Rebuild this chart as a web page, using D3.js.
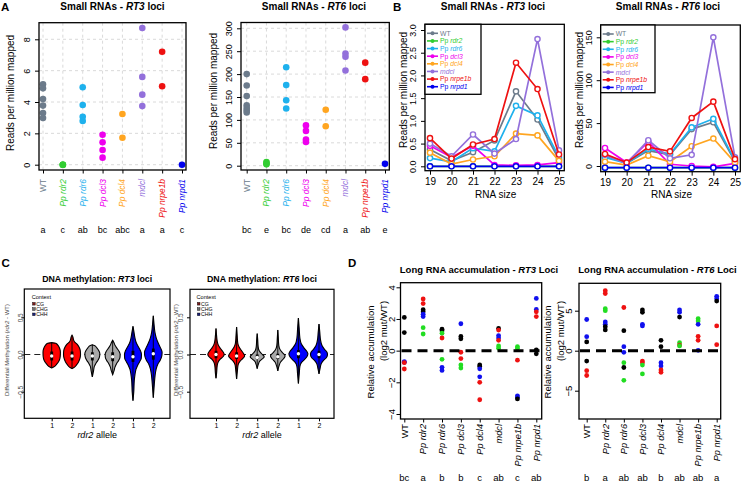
<!DOCTYPE html>
<html><head><meta charset="utf-8">
<script src="https://cdn.jsdelivr.net/npm/d3@7"></script>
<style>body{margin:0;background:#fff}svg{display:block}</style>
</head><body><svg id="chart" width="742" height="484"></svg>
<script>
// ---------------- DATA ----------------
const genotypes = ["WT","Pp rdr2","Pp rdr6","Pp dcl3","Pp dcl4","mdcl","Pp nrpe1b","Pp nrpd1"];
const genoColors = ["#6C7B8B","#32CD32","#1EB1ED","#EE00EE","#FFA520","#9370DB","#EE1111","#0000EE"];

// A: small RNAs (reads per million mapped), one array per genotype
const smallRT3 = [[5.13,4.87,4.19,3.77,3.3,2.98],[0,0,0],[4.94,3.81,3.06,2.79],[1.91,1.43,0.94,0.45],[3.23,1.72],[8.72,5.6,4.47,3.74],[7.21,5.0],[0]];
const smallRT6 = [[200,175,152,132,126,121,116],[8,5,3],[215,176,143,125],[88,76,57,52],[122,86],[302,245,238,208],[225,189],[4]];
const smallRT3Ticks = [0,2,4,6,8];
const smallRT6Ticks = [0,50,100,150,200,250,300];
const smallRT3Letters = ["a","c","ab","bc","abc","a","a","c"];
const smallRT6Letters = ["bc","e","bc","de","cd","a","ab","e"];

// B: size profiles
const rnaSizes = [19,20,21,22,23,24,25];
const sizeRT3_WT     = [0.37,0.12,0.31,0.57,1.65,1.03,0.15];
const sizeRT3_rdr2   = [0,0,0,0,0,0,0];
const sizeRT3_rdr6   = [0.18,0.10,0.40,0.33,1.33,1.12,0.20];
const sizeRT3_dcl3   = [0.45,0.20,0.45,0.03,0.02,0.03,0.08];
const sizeRT3_dcl4   = [0.30,0.05,0.15,0.22,0.72,0.68,0.12];
const sizeRT3_mdcl   = [0.50,0.22,0.70,0.28,0.60,2.80,0.35];
const sizeRT3_nrpe1b = [0.62,0.17,0.48,0.60,2.28,1.70,0.26];
const sizeRT3_nrpd1  = [0,0,0,0,0,0,0];
const sizeRT6_WT     = [12,3,18,13,43,51,5];
const sizeRT6_rdr2   = [-2,-2,-2,-2,-2,-2,-2];
const sizeRT6_rdr6   = [10,3,20,14,45,55,6];
const sizeRT6_dcl3   = [21,4,28,2,0,-1,3];
const sizeRT6_dcl4   = [5,1,12,5,23,32,4];
const sizeRT6_mdcl   = [13,3,30,9,13,150,10];
const sizeRT6_nrpe1b = [14,4,22,17,56,75,8];
const sizeRT6_nrpd1  = [-2,-2,-2,-2,-2,-2,-2];
const sizeRT3Ticks = [0,0.5,1,1.5,2,2.5,3];
const sizeRT6Ticks = [0,50,100,150];

// C: DNA methylation violins ([value, density])
const contexts = ["CG","CHG","CHH"];
const contextFill = ["#FF0000","#A8A8A8","#0000FF"];
const contextKey = ["#7A1C1C","#6E6E6E","#1C237A"];
const violinContext = [0,0,1,1,2,2];
const violinAllele = ["1","2","1","2","1","2"];
const methTicks = [-0.5,0,0.5];
const methRT3Profiles = [
  [[0.16,0],[0.15,4],[0.12,6.5],[0.08,8],[0.03,8.7],[-0.03,8.5],[-0.08,7.5],[-0.13,5],[-0.16,3],[-0.18,0]],
  [[0.26,0],[0.24,0.8],[0.2,1.5],[0.17,2.5],[0.14,5],[0.1,7],[0.05,8.3],[0,8.5],[-0.05,8],[-0.1,6.5],[-0.14,4.5],[-0.17,2.5],[-0.19,0]],
  [[0.13,0],[0.12,2],[0.09,4.5],[0.05,6.5],[0.01,7.5],[-0.04,7],[-0.08,5.5],[-0.12,3.5],[-0.16,2],[-0.22,1.2],[-0.3,0]],
  [[0.19,0],[0.16,1.2],[0.12,2.5],[0.08,4.5],[0.04,6.5],[0,7.5],[-0.04,7.3],[-0.08,6],[-0.12,4],[-0.17,2.3],[-0.22,1.3],[-0.27,0]],
  [[0.38,0],[0.3,1],[0.22,2],[0.15,3.5],[0.1,5.5],[0.05,7.5],[0,8.5],[-0.05,8.3],[-0.1,6.5],[-0.15,4.5],[-0.2,3],[-0.27,2],[-0.35,1.3],[-0.5,0.8],[-0.62,0]],
  [[0.52,0],[0.4,0.8],[0.3,1.6],[0.22,3],[0.15,5],[0.08,7.5],[0.03,8.8],[-0.02,8.5],[-0.08,6.8],[-0.13,4.5],[-0.2,2.8],[-0.28,1.8],[-0.4,1],[-0.58,0]]
];
const methRT3Median = [-0.02,-0.02,-0.02,-0.03,-0.03,0.01];
const methRT3Q1 = [-0.08,-0.08,-0.08,-0.09,-0.1,-0.07];
const methRT3Q3 = [0.04,0.04,0.03,0.03,0.05,0.08];
const methRT6Profiles = [
  [[0.35,0],[0.25,0.6],[0.18,1.2],[0.12,2.5],[0.08,4.5],[0.04,6.8],[0,8.2],[-0.03,7],[-0.06,4.5],[-0.1,2.2],[-0.15,1.2],[-0.25,0.6],[-0.32,0]],
  [[0.37,0],[0.25,0.6],[0.15,1.2],[0.1,2.5],[0.05,5],[0,7.5],[-0.02,8],[-0.05,6.5],[-0.09,3.5],[-0.14,1.5],[-0.22,0.8],[-0.33,0]],
  [[0.28,0],[0.2,0.5],[0.1,1],[0.05,2],[0.01,4.5],[-0.03,7],[-0.06,5],[-0.09,2.5],[-0.13,1.2],[-0.19,0]],
  [[0.33,0],[0.22,0.5],[0.12,1],[0.06,2.5],[0.02,5],[-0.02,7.3],[-0.06,5.5],[-0.1,2.8],[-0.15,1.3],[-0.22,0]],
  [[0.49,0],[0.35,0.8],[0.22,1.5],[0.14,3],[0.09,5.5],[0.04,8.5],[0.01,9.5],[-0.03,8.5],[-0.07,6],[-0.11,3],[-0.16,1.5],[-0.25,0.9],[-0.39,0]],
  [[0.41,0],[0.3,0.8],[0.2,1.5],[0.12,3],[0.07,5.5],[0.03,8],[0,8.5],[-0.04,7.5],[-0.08,4.5],[-0.12,2.3],[-0.18,1.2],[-0.26,0]]
];
const methRT6Median = [0,-0.02,-0.04,-0.03,0.01,0];
const methRT6Q1 = [-0.05,-0.06,-0.06,-0.06,-0.05,-0.05];
const methRT6Q3 = [0.05,0.03,0.0,0.01,0.06,0.05];

// D: long RNA accumulation (log2 mut/WT): [value, replicate colour key]
const repColors = {k:"#000000", r:"#EE1111", b:"#1010EE", g:"#22DD22"};
const longRT3 = [
  [[2.1,"k"],[1.14,"k"],[-0.69,"b"],[-0.74,"b"],[-0.76,"r"],[-1.16,"r"]],
  [[3.26,"r"],[2.97,"r"],[2.59,"k"],[2.45,"k"],[2.3,"b"],[2.15,"b"],[1.45,"g"],[1.05,"g"]],
  [[1.35,"k"],[1.25,"k"],[1.1,"g"],[0.8,"r"],[-0.55,"g"],[-1.05,"b"],[-1.25,"b"]],
  [[1.7,"b"],[0.9,"k"],[0.75,"k"],[-0.1,"r"],[-0.5,"r"],[-0.9,"g"],[-1.1,"g"]],
  [[-0.9,"k"],[-1.0,"k"],[-1.15,"b"],[-1.65,"b"],[-2.0,"r"],[-3.1,"r"]],
  [[1.4,"k"],[1.3,"r"],[0.95,"b"],[0.8,"b"],[0.65,"r"],[0.3,"g"],[0.15,"g"]],
  [[0.25,"g"],[0.15,"g"],[-0.6,"r"],[-2.85,"b"],[-2.95,"b"],[-3.05,"k"]],
  [[3.3,"b"],[2.6,"b"],[2.45,"r"],[2.15,"r"],[0.05,"k"],[-0.2,"k"]]
];
const longRT6 = [
  [[3.9,"b"],[1.75,"b"],[1.1,"k"],[-1.3,"k"],[-2.5,"r"],[-3.1,"r"]],
  [[7.5,"r"],[7.15,"r"],[5.25,"g"],[5.0,"g"],[3.6,"b"],[3.3,"b"],[3.0,"k"],[2.6,"k"]],
  [[5.4,"r"],[2.5,"k"],[0.5,"b"],[-0.2,"b"],[-1.5,"g"],[-2.1,"k"],[-3.7,"g"]],
  [[5.1,"k"],[4.8,"k"],[3.3,"b"],[3.1,"b"],[-1.3,"r"],[-1.5,"r"],[-1.8,"g"],[-2.9,"g"]],
  [[1.3,"k"],[0.5,"k"],[-1.5,"b"],[-1.9,"b"],[-2.4,"r"],[-2.7,"r"]],
  [[5.1,"b"],[4.8,"b"],[4.2,"k"],[1.0,"g"],[0.7,"r"],[0.6,"g"]],
  [[4.0,"g"],[3.7,"g"],[3.3,"b"],[1.8,"r"],[1.3,"r"],[0.05,"b"]],
  [[6.8,"b"],[6.5,"b"],[6.2,"k"],[3.1,"r"],[0.75,"r"]]
];
const longRT3Ticks = [-4,-2,0,2,4];
const longRT6Ticks = [-5,0,5];
const longRT3Letters = ["bc","a","b","b","c","ab","c","ab"];
const longRT6Letters = ["b","a","ab","ab","b","ab","ab","a"];

// ---------------- DRAWING ----------------
const F = "'Liberation Sans', Arial, Helvetica, sans-serif";
const svg = d3.select("#chart");
svg.append("rect").attr("width",742).attr("height",484).attr("fill","#fff");

function rich(g, x, y, parts, size, o = {}) {
  const t = g.append("text").attr("font-size", size).attr("font-family", F)
    .attr("text-anchor", o.anchor || "middle").attr("fill", o.fill || "#000");
  if (o.rotate) t.attr("transform", `translate(${x},${y}) rotate(-90)`);
  else t.attr("x", x).attr("y", y);
  if (o.bold) t.attr("font-weight", "bold");
  if (o.dy) t.attr("dy", o.dy);
  parts.forEach(p => { const s = t.append("tspan").text(p[0]); if (p[1]) s.attr("font-style", "italic"); });
  return t;
}
function genoAllItalic(n) { return n === "WT" ? [["WT", false]] : [[n, true]]; }
function genoGeneItalic(n) {
  if (n.startsWith("Pp ")) return [["Pp ", false], [n.slice(3), true]];
  return [[n, n !== "WT"]];
}
function yAxis(g, y, xPos, ticks, fmt, size, centerDist, tickLen, color) {
  const ax = g.append("g").attr("transform", `translate(${xPos},0)`)
    .call(d3.axisLeft(y).tickValues(ticks).tickSize(tickLen).tickFormat(fmt));
  ax.select(".domain").remove();
  ax.attr("font-family", F).attr("font-size", size);
  const off = centerDist - size * 0.716 / 2;
  ax.selectAll(".tick text").attr("x", 0).attr("dy", 0).attr("text-anchor", "middle")
    .attr("fill", color || "#000")
    .attr("transform", `translate(${-off},0) rotate(-90)`);
  ax.selectAll(".tick line").attr("stroke", "#000");
  return ax;
}
function frame(g, b, w) {
  g.append("rect").attr("x", b[0]).attr("y", b[1]).attr("width", b[2] - b[0]).attr("height", b[3] - b[1])
    .attr("fill", "none").attr("stroke", "#000").attr("stroke-width", w || 1.3);
}
function panelLetter(t, x, y) {
  svg.append("text").attr("x", x).attr("y", y).attr("font-family", F).attr("font-weight", "bold")
    .attr("font-size", 11.5).text(t);
}

// ---- Panel A ----
function panelA(c) {
  const g = svg.append("g");
  const b = c.box;
  const x = d3.scaleLinear().domain([1, 8]).range(c.xr);
  const y = d3.scaleLinear().domain(c.yd).range(c.yr);
  c.ticks.forEach(t => g.append("line").attr("x1", b[0]).attr("x2", b[2]).attr("y1", y(t)).attr("y2", y(t))
    .attr("stroke", "#d0d0d0").attr("stroke-dasharray", "3,3").attr("stroke-width", 0.8));
  genotypes.forEach((_, i) => g.append("line").attr("x1", x(i + 1)).attr("x2", x(i + 1)).attr("y1", b[1]).attr("y2", b[3])
    .attr("stroke", "#d0d0d0").attr("stroke-dasharray", "3,3").attr("stroke-width", 0.8));
  c.data.forEach((vals, i) => g.selectAll(null).data(vals).join("circle")
    .attr("cx", x(i + 1)).attr("cy", d => y(d)).attr("r", 3.3).attr("fill", genoColors[i]));
  frame(g, b);
  yAxis(g, y, b[0], c.ticks, d3.format("d"), 9, c.tickCenter, 4);
  const xa = g.append("g").attr("transform", `translate(0,${b[3]})`)
    .call(d3.axisBottom(x).tickValues(d3.range(1, 9)).tickSize(3.5).tickFormat(""));
  xa.select(".domain").remove();
  genotypes.forEach((n, i) => rich(g, x(i + 1), 179, genoAllItalic(n), 8.4, { rotate: true, anchor: "end", dy: "0.35em", fill: genoColors[i] }));
  c.letters.forEach((l, i) => rich(g, x(i + 1), 233, [[l, false]], 9));
  rich(g, c.titleX, 9.5, [["Small RNAs - ", false], [c.locus, true], [" loci", false]], 10, { bold: true });
  rich(g, c.yTitleX, c.yTitleY, [["Reads per million mapped", false]], 10, { rotate: true, dy: "0.35em" });
}
panelA({ box: [39, 22.7, 186, 170], xr: [43, 182], yd: [0, 8], yr: [164.7, 39.3], ticks: smallRT3Ticks,
  data: smallRT3, letters: smallRT3Letters, tickCenter: 12.3, titleX: 112.5, yTitleX: 10, yTitleY: 93, locus: "RT3" });
panelA({ box: [241, 22.5, 389.3, 170], xr: [246.7, 385], yd: [0, 300], yr: [165.7, 28.3], ticks: smallRT6Ticks,
  data: smallRT6, letters: smallRT6Letters, tickCenter: 12.7, titleX: 314, yTitleX: 213, yTitleY: 91, locus: "RT6" });

// ---- Panel B ----
function panelB(c) {
  const g = svg.append("g");
  const b = c.box;
  const x = d3.scaleLinear().domain([19, 25]).range(c.xr);
  const y = d3.scaleLinear().domain(c.yd).range(c.yr);
  const line = d3.line().x((d, i) => x(rnaSizes[i])).y(d => y(d));
  c.series.forEach((s, i) => {
    g.append("path").datum(s).attr("d", line).attr("fill", "none").attr("stroke", genoColors[i]).attr("stroke-width", 1.7);
    g.selectAll(null).data(s).join("circle").attr("cx", (d, j) => x(rnaSizes[j])).attr("cy", d => y(d))
      .attr("r", 2.6).attr("fill", "#fff").attr("stroke", genoColors[i]).attr("stroke-width", 1.4);
  });
  frame(g, b);
  yAxis(g, y, b[0], c.ticks, c.fmt, 9, c.tickCenter, 4);
  const xa = g.append("g").attr("transform", `translate(0,${b[3]})`)
    .call(d3.axisBottom(x).tickValues(rnaSizes).tickSize(4).tickPadding(3).tickFormat(d3.format("d")));
  xa.select(".domain").remove();
  xa.attr("font-family", F).attr("font-size", 10);
  xa.selectAll(".tick line").attr("stroke", "#000");
  rich(g, (b[0] + b[2]) / 2 + 1, 198, [["RNA size", false]], 10);
  rich(g, c.titleX, 9.5, [["Small RNAs - ", false], [c.locus, true], [" loci", false]], 10, { bold: true });
  rich(g, c.yTitleX, 90, [["Reads per million mapped", false]], 10, { rotate: true, dy: "0.35em" });
  // legend
  const L = c.legend;
  g.append("rect").attr("x", L[0]).attr("y", L[1]).attr("width", L[2] - L[0]).attr("height", L[3] - L[1])
    .attr("fill", "#fff").attr("stroke", "#000").attr("stroke-width", 1.3);
  genotypes.forEach((n, i) => {
    const yy = L[1] + 9 + i * 7.63;
    g.append("line").attr("x1", L[0] + 2).attr("x2", L[0] + 13).attr("y1", yy).attr("y2", yy)
      .attr("stroke", genoColors[i]).attr("stroke-width", 1.6);
    g.append("circle").attr("cx", L[0] + 7.5).attr("cy", yy).attr("r", 2).attr("fill", genoColors[i]);
    rich(g, L[0] + 15, yy + 2.4, genoGeneItalic(n), 6.8, { anchor: "start", fill: genoColors[i] });
  });
}
panelB({ box: [425, 24.3, 564.3, 170.7], xr: [430, 559], yd: [0, 3], yr: [166.3, 30], ticks: sizeRT3Ticks, fmt: d3.format(".1f"),
  series: [sizeRT3_WT, sizeRT3_rdr2, sizeRT3_rdr6, sizeRT3_dcl3, sizeRT3_dcl4, sizeRT3_mdcl, sizeRT3_nrpe1b, sizeRT3_nrpd1],
  tickCenter: 12, titleX: 493, yTitleX: 403, legend: [425, 24.3, 481, 94.3], locus: "RT3" });
panelB({ box: [600.7, 25, 740.3, 171.7], xr: [605, 735], yd: [0, 150], yr: [166, 37.3], ticks: sizeRT6Ticks, fmt: d3.format("d"),
  series: [sizeRT6_WT, sizeRT6_rdr2, sizeRT6_rdr6, sizeRT6_dcl3, sizeRT6_dcl4, sizeRT6_mdcl, sizeRT6_nrpe1b, sizeRT6_nrpd1],
  tickCenter: 11.7, titleX: 668, yTitleX: 579, legend: [600.7, 25, 655, 92.7], locus: "RT6" });

// ---- Panel C ----
function panelC(c) {
  const g = svg.append("g");
  const b = c.box;
  const x = d3.scaleLinear().domain([1, 6]).range(c.xr);
  const y = d3.scaleLinear().domain([-0.5, 0.5]).range([391.7, 317.3]);
  const w = d3.scaleLinear().domain([0, 10]).range([0, 10]);
  g.append("line").attr("x1", b[0]).attr("x2", b[2]).attr("y1", y(0)).attr("y2", y(0))
    .attr("stroke", "#222").attr("stroke-width", 1.1).attr("stroke-dasharray", "6,4");
  c.profiles.forEach((p, i) => {
    const cx = x(i + 1);
    const area = d3.area().curve(d3.curveMonotoneY).y(d => y(d[0])).x0(d => cx - w(d[1])).x1(d => cx + w(d[1]));
    g.append("path").datum(p).attr("d", area).attr("fill", contextFill[violinContext[i]])
      .attr("stroke", "#000").attr("stroke-width", 1.1);
    g.append("line").attr("x1", cx).attr("x2", cx).attr("y1", y(p[0][0])).attr("y2", y(p[p.length - 1][0]))
      .attr("stroke", "#000").attr("stroke-width", 0.9);
    g.append("rect").attr("x", cx - 1.4).attr("width", 2.8).attr("y", y(c.q3[i])).attr("height", y(c.q1[i]) - y(c.q3[i])).attr("fill", "#000");
    g.append("circle").attr("cx", cx).attr("cy", y(c.median[i])).attr("r", 1.7).attr("fill", "#fff");
  });
  frame(g, b, 1.2);
  yAxis(g, y, b[0], methTicks, d3.format(".1f"), 6.5, c.tickCenter, 3, "#444");
  const xa = g.append("g").attr("transform", `translate(0,${b[3]})`)
    .call(d3.axisBottom(x).tickValues(d3.range(1, 7)).tickSize(3).tickPadding(2).tickFormat((d, i) => violinAllele[i]));
  xa.select(".domain").remove();
  xa.attr("font-family", F).attr("font-size", 7);
  xa.selectAll(".tick line").attr("stroke", "#000");
  rich(g, (b[0] + b[2]) / 2, 438, [["rdr2", true], [" allele", false]], 9);
  rich(g, (b[0] + b[2]) / 2, 282, [["DNA methylation: ", false], [c.locus, true], [" loci", false]], 8.8, { bold: true });
  rich(g, c.yTitleX, 350, [["Differential Methylation (", false], ["rdr2", true], [" - WT)", false]], 6, { rotate: true, dy: "0.35em", fill: "#444" });
  // legend
  rich(g, c.legX, 298.6, [["Context", false]], 5.6, { anchor: "start" });
  contexts.forEach((ct, i) => {
    const yy = 302.4 + i * 5.3;
    g.append("rect").attr("x", c.legX + 0.8).attr("y", yy).attr("width", 2.7).attr("height", 2.7)
      .attr("fill", contextKey[i]).attr("stroke", "#000").attr("stroke-width", 0.4);
    rich(g, c.legX + 4.5, yy + 3.2, [[ct, false]], 5.2, { anchor: "start" });
  });
}
panelC({ box: [24.3, 289, 170, 418.3], xr: [51.7, 153.3], profiles: methRT3Profiles, median: methRT3Median, q1: methRT3Q1, q3: methRT3Q3,
  tickCenter: 3.6, yTitleX: 7.3, legX: 31.7, locus: "RT3" });
panelC({ box: [190, 289.3, 334, 418.3], xr: [216, 319], profiles: methRT6Profiles, median: methRT6Median, q1: methRT6Q1, q3: methRT6Q3,
  tickCenter: 9.3, yTitleX: 175.5, legX: 196.5, locus: "RT6" });

// ---- Panel D ----
function panelD(c) {
  const g = svg.append("g");
  const b = c.box;
  const x = d3.scaleLinear().domain([1, 8]).range(c.xr);
  const y = d3.scaleLinear().domain(c.yd).range(c.yr);
  c.data.forEach((pts, i) => g.selectAll(null).data(pts).join("circle")
    .attr("cx", x(i + 1)).attr("cy", d => y(d[0])).attr("r", 2.4).attr("fill", d => repColors[d[1]]));
  g.append("line").attr("x1", b[0] + 1).attr("x2", b[2] - 1).attr("y1", y(0)).attr("y2", y(0))
    .attr("stroke", "#000").attr("stroke-width", 3).attr("stroke-dasharray", "10,6");
  frame(g, b, 1.3);
  yAxis(g, y, b[0], c.ticks, d3.format("d"), 9.5, c.tickCenter, 4);
  const xa = g.append("g").attr("transform", `translate(0,${b[3]})`)
    .call(d3.axisBottom(x).tickValues(d3.range(1, 9)).tickSize(3.5).tickFormat(""));
  xa.select(".domain").remove();
  xa.selectAll(".tick line").attr("stroke", "#000");
  genotypes.forEach((n, i) => rich(g, x(i + 1), 424, genoAllItalic(n), 9.2, { rotate: true, anchor: "end", dy: "0.35em" }));
  c.letters.forEach((l, i) => rich(g, x(i + 1), 480.5, [[l, false]], 9.5));
  rich(g, c.titleX, 272.5, [["Long RNA accumulation - ", false], [c.locus, true], [" Loci", false]], 9.5, { bold: true });
  rich(g, c.yT1, 352, [["Relative accumulation", false]], 9.5, { rotate: true, dy: "0.35em" });
  rich(g, c.yT2, 331, [["(log2 mut/WT)", false]], 9.5, { rotate: true, dy: "0.35em" });
}
panelD({ box: [400.5, 282.7, 541.7, 419], xr: [404.3, 536.3], yd: [-4, 4], yr: [414, 287.3], ticks: longRT3Ticks, data: longRT3,
  letters: longRT3Letters, tickCenter: 8.8, titleX: 479, yT1: 370.7, yT2: 383.7, locus: "RT3" });
panelD({ box: [579, 283.3, 720.7, 419], xr: [586.7, 716.7], yd: [-5, 5], yr: [390.7, 310.7], ticks: longRT6Ticks, data: longRT6,
  letters: longRT6Letters, tickCenter: 10, titleX: 657.5, yT1: 548, yT2: 561, locus: "RT6" });

panelLetter("A", 1, 10.7);
panelLetter("B", 393, 11);
panelLetter("C", 1.5, 266.7);
panelLetter("D", 348, 267.2);
</script></body></html>
